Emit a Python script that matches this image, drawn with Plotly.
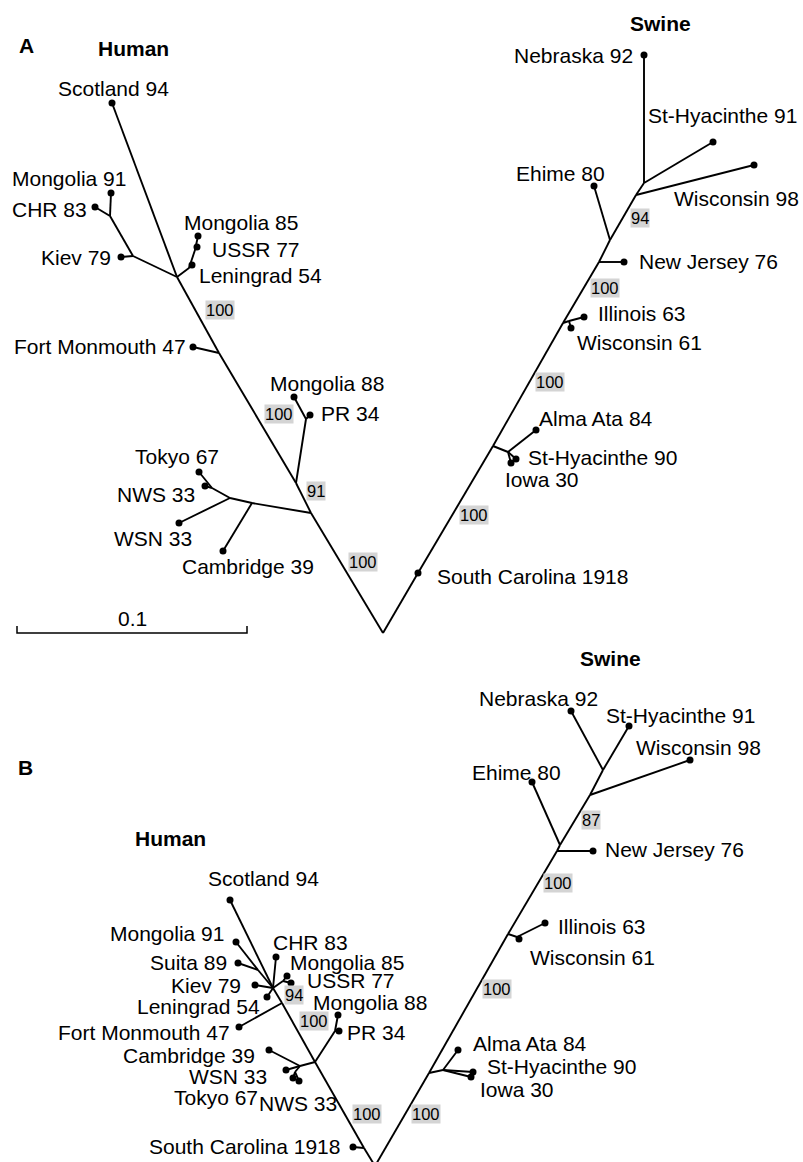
import plotly.graph_objects as go

# ---------------- Panel A: tree nodes (picture coordinates) ----------------
A_node = ["root", "hTok", "hMP", "hFM", "h1", "Scotland 94",
          "k1", "Kiev 79", "k2", "Mongolia 91", "CHR 83",
          "l1", "Leningrad 54", "l2", "USSR 77", "Mongolia 85",
          "Fort Monmouth 47", "p1", "Mongolia 88", "PR 34",
          "t1", "Cambridge 39", "t2", "WSN 33", "t3", "Tokyo 67", "NWS 33",
          "South Carolina 1918", "sAA", "a1", "Alma Ata 84", "St-Hyacinthe 90", "Iowa 30",
          "sIL", "i1", "Illinois 63", "Wisconsin 61",
          "sNJ", "New Jersey 76", "sEH", "Ehime 80", "s94", "Wisconsin 98",
          "sNB", "Nebraska 92", "St-Hyacinthe 91"]
A_x = [383, 311, 296, 219, 177, 112,
       133, 121, 110, 111, 95,
       189, 192, 195, 197, 198,
       193, 306, 294, 310,
       252, 223, 230, 179, 212, 199, 205,
       418, 493, 508, 536, 516, 511,
       563, 569, 584, 571,
       599, 624, 610, 594, 636, 754,
       644, 644, 713]
A_y = [633, 513, 483, 353, 277, 103,
       256, 257, 216, 193, 207,
       268, 265, 250, 247, 236,
       347, 419, 397, 415,
       503, 551, 498, 523, 488, 472, 486,
       573, 446, 452, 430, 459, 463,
       323, 321, 317, 328,
       262, 262, 240, 186, 195, 165,
       183, 55, 142]
A_parent = [None, "root", "hTok", "hMP", "hFM", "h1",
            "h1", "k1", "k1", "k2", "k2",
            "h1", "l1", "l1", "l2", "l2",
            "hFM", "hMP", "p1", "p1",
            "hTok", "t1", "t1", "t2", "t2", "t3", "t3",
            "root", "South Carolina 1918", "sAA", "a1", "a1", "a1",
            "sAA", "sIL", "i1", "i1",
            "sIL", "sNJ", "sNJ", "sEH", "sEH", "s94",
            "s94", "sNB", "sNB"]
A_boot = ["100", "100", "91", "100", "94", "100", "100", "100"]

# ---------------- Panel B: tree nodes ----------------
B_node = ["root", "hSC", "South Carolina 1918", "hJ", "hFM", "h1", "Scotland 94",
          "m1", "Mongolia 91", "Suita 89", "Kiev 79", "CHR 83",
          "u1", "Mongolia 85", "USSR 77", "Leningrad 54", "Fort Monmouth 47",
          "p1", "Mongolia 88", "PR 34",
          "c1", "Cambridge 39", "WSN 33", "c2", "Tokyo 67", "NWS 33",
          "sAA", "a1", "Alma Ata 84", "St-Hyacinthe 90", "Iowa 30",
          "sIL", "i1", "Illinois 63", "Wisconsin 61",
          "sNJ", "New Jersey 76", "sEH", "Ehime 80", "s87", "Wisconsin 98",
          "sNB", "Nebraska 92", "St-Hyacinthe 91"]
B_x = [375, 364, 353, 315, 282, 273, 230,
       258, 236, 238, 255, 276,
       283, 287, 291, 267, 239,
       335, 338, 339,
       300, 269, 286, 295, 293, 299,
       429, 443, 458, 473, 471,
       508, 517, 545, 519,
       557, 593, 560, 532, 590, 690,
       603, 571, 629]
B_y = [1166, 1148, 1147, 1062, 1003, 988, 900,
       970, 942, 963, 985, 957,
       981, 976, 983, 997, 1027,
       1031, 1015, 1031,
       1066, 1050, 1070, 1072, 1078, 1081,
       1073, 1070, 1050, 1072, 1077,
       934, 937, 923, 939,
       851, 851, 845, 782, 795, 760,
       770, 711, 726]
B_parent = [None, "root", "hSC", "hSC", "hJ", "hFM", "h1",
            "h1", "m1", "m1", "h1", "h1",
            "h1", "u1", "u1", "h1", "hFM",
            "hJ", "p1", "p1",
            "hJ", "c1", "c1", "c1", "c2", "c2",
            "root", "sAA", "a1", "a1", "a1",
            "sAA", "sIL", "i1", "i1",
            "sIL", "sNJ", "sNJ", "sEH", "sEH", "s87",
            "s87", "sNB", "sNB"]
B_boot = ["94", "100", "100", "100", "100", "100", "87"]

SCALE_LABEL = "0.1"
SCALE_PX = 230  # length of 0.1 substitutions in picture units

# ---------------- layout of texts (positions only) ----------------
A_label_pos = {
    "Scotland 94": (113, 88, "center"), "Mongolia 91": (10, 178, "left"),
    "CHR 83": (89, 209, "right"), "Kiev 79": (113, 257, "right"),
    "Mongolia 85": (182, 222, "left"), "USSR 77": (210, 249, "left"),
    "Leningrad 54": (197, 275, "left"), "Fort Monmouth 47": (188, 346, "right"),
    "Mongolia 88": (268, 383, "left"), "PR 34": (319, 413, "left"),
    "Tokyo 67": (133, 456, "left"), "NWS 33": (197, 494, "right"),
    "WSN 33": (194, 538, "right"), "Cambridge 39": (180, 566, "left"),
    "Nebraska 92": (635, 55, "right"), "St-Hyacinthe 91": (799, 115, "right"),
    "Ehime 80": (607, 173, "right"), "Wisconsin 98": (672, 198, "left"),
    "New Jersey 76": (637, 261, "left"), "Illinois 63": (596, 313, "left"),
    "Wisconsin 61": (575, 342, "left"), "Alma Ata 84": (537, 418, "left"),
    "St-Hyacinthe 90": (526, 457, "left"), "Iowa 30": (503, 479, "left"),
    "South Carolina 1918": (435, 576, "left"),
}
A_boot_pos = [(220, 310), (279, 414), (316, 491), (363, 562),
              (640, 218), (605, 288), (550, 382), (474, 515)]
B_label_pos = {
    "Scotland 94": (206, 878, "left"), "Mongolia 91": (226, 933, "right"),
    "CHR 83": (271, 942, "left"), "Suita 89": (229, 962, "right"),
    "Mongolia 85": (288, 962, "left"), "USSR 77": (305, 980, "left"),
    "Kiev 79": (243, 985, "right"), "Mongolia 88": (311, 1002, "left"),
    "Leningrad 54": (262, 1006, "right"), "PR 34": (345, 1032, "left"),
    "Fort Monmouth 47": (232, 1032, "right"), "Cambridge 39": (257, 1055, "right"),
    "WSN 33": (269, 1076, "right"), "Tokyo 67": (260, 1097, "right"),
    "NWS 33": (257, 1103, "left"), "South Carolina 1918": (342, 1146, "right"),
    "Nebraska 92": (600, 698, "right"), "St-Hyacinthe 91": (604, 715, "left"),
    "Wisconsin 98": (634, 747, "left"), "Ehime 80": (516, 772, "center"),
    "New Jersey 76": (603, 849, "left"), "Illinois 63": (556, 926, "left"),
    "Wisconsin 61": (528, 957, "left"), "Alma Ata 84": (471, 1043, "left"),
    "St-Hyacinthe 90": (485, 1066, "left"), "Iowa 30": (478, 1089, "left"),
}
B_boot_pos = [(294, 995), (314, 1021), (367, 1114), (426, 1114),
              (497, 989), (558, 883), (591, 820)]
titles = [("A", 26, 45), ("Human", 133, 48), ("Swine", 660, 23),
          ("B", 25, 767), ("Human", 170, 838), ("Swine", 610, 658)]

FONT = "Liberation Sans, Arial, Helvetica, sans-serif"
W, H = 803, 1162

fig = go.Figure()
annotations = []


def add_tree(names, xs, ys, parents, label_pos, boots, boot_pos):
    pos = {n: (x, y) for n, x, y in zip(names, xs, ys)}
    ex, ey = [], []
    for n, p in zip(names, parents):
        if p is None:
            continue
        ex += [pos[p][0], pos[n][0], None]
        ey += [pos[p][1], pos[n][1], None]
    fig.add_trace(go.Scatter(x=ex, y=ey, mode="lines",
                             line=dict(color="black", width=1.9),
                             hoverinfo="skip"))
    leaves = [n for n in names if n in label_pos]
    fig.add_trace(go.Scatter(x=[pos[n][0] for n in leaves],
                             y=[pos[n][1] for n in leaves],
                             mode="markers", text=leaves,
                             marker=dict(color="black", size=7),
                             hoverinfo="text"))
    for n in leaves:
        lx, ly, anc = label_pos[n]
        annotations.append(dict(x=lx, y=ly, text=n, showarrow=False,
                                xanchor=anc, yanchor="middle",
                                font=dict(family=FONT, size=21, color="black")))
    for b, (bx, by) in zip(boots, boot_pos):
        annotations.append(dict(x=bx, y=by, text=b, showarrow=False,
                                xanchor="center", yanchor="middle",
                                bgcolor="#d4d4d4", borderpad=0,
                                font=dict(family=FONT, size=16.5, color="black")))


add_tree(A_node, A_x, A_y, A_parent, A_label_pos, A_boot, A_boot_pos)
add_tree(B_node, B_x, B_y, B_parent, B_label_pos, B_boot, B_boot_pos)

# scale bar
sb_x0, sb_y = 17, 633
fig.add_trace(go.Scatter(x=[sb_x0, sb_x0, sb_x0 + SCALE_PX, sb_x0 + SCALE_PX],
                         y=[sb_y - 7, sb_y, sb_y, sb_y - 7], mode="lines",
                         line=dict(color="black", width=1.5), hoverinfo="skip"))
annotations.append(dict(x=sb_x0 + SCALE_PX / 2, y=618, text=SCALE_LABEL, showarrow=False,
                        xanchor="center", yanchor="middle",
                        font=dict(family=FONT, size=21, color="black")))

for t, tx, ty in titles:
    annotations.append(dict(x=tx, y=ty, text="<b>%s</b>" % t, showarrow=False,
                            xanchor="center", yanchor="middle",
                            font=dict(family=FONT, size=21, color="black")))

fig.update_layout(
    width=W, height=H, autosize=False,
    margin=dict(l=0, r=0, t=0, b=0),
    paper_bgcolor="white", plot_bgcolor="white",
    showlegend=False,
    xaxis=dict(range=[0, W], visible=False, fixedrange=True),
    yaxis=dict(range=[H, 0], visible=False, fixedrange=True),
    annotations=annotations,
)
fig.write_html("out.html", config={"displayModeBar": False},
               post_script="document.body.style.margin='0';document.body.style.overflow='hidden';")
